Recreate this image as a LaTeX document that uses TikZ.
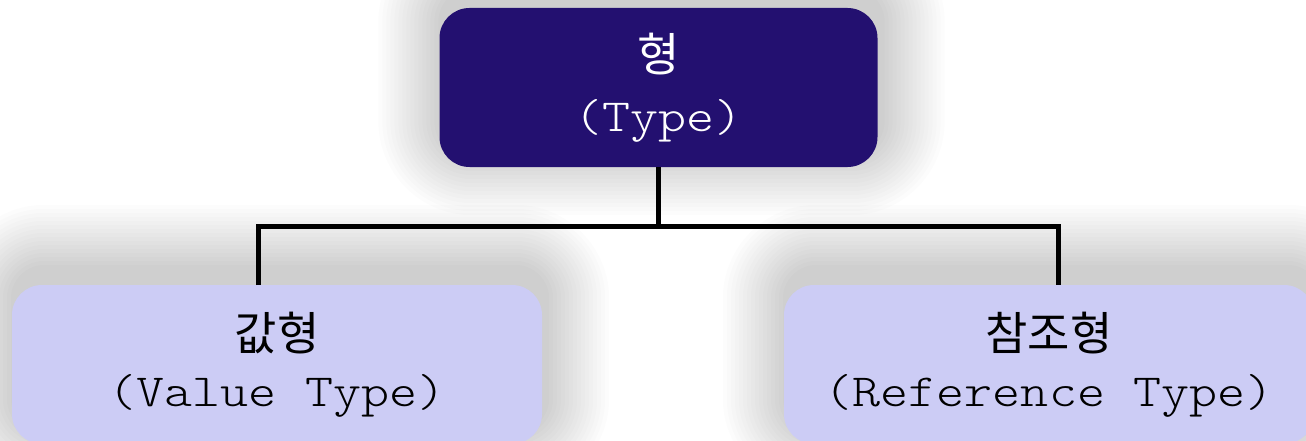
\documentclass[tikz,border=0pt]{standalone}
\usepackage{fontspec}
\usepackage{graphicx}
\newfontfamily\krfont{Noto Sans CJK KR}
\newfontfamily\monolight{lmmonolt10-regular.otf}
\usetikzlibrary{calc,backgrounds}
\definecolor{topfill}{RGB}{35,16,112}
\definecolor{subfill}{RGB}{204,204,245}
\newcommand{\monotxt}[1]{\scalebox{1.16}[1]{#1}}
\newcommand{\softshadow}[1]{%
  \foreach \i [evaluate=\i as \e using 4*\i, evaluate=\i as \r using 30+4*\i] in {1,...,16}{
    \fill[black, fill opacity=0.013, rounded corners=\r pt]
      ($(#1.south west)+(-\e+3,\e-16)$) rectangle ($(#1.north east)+(\e+3,-\e-16)$);
  }}
\tikzset{
  boxbase/.style={rectangle, rounded corners=30pt, minimum height=159pt, inner sep=0pt, draw=none},
  topbox/.style={boxbase, fill=topfill, minimum width=438pt},
  subbox/.style={boxbase, fill=subfill, minimum width=530pt},
  krtext/.style={inner sep=0pt, font=\krfont\fontsize{46}{50}\selectfont},
  monotext/.style={inner sep=0pt, font=\monolight\fontsize{46}{50}\selectfont},
  conn/.style={line width=5pt, draw=black}
}
\begin{document}
\begin{tikzpicture}[x=1pt,y=-1pt]
\useasboundingbox (0,0) rectangle (1306,441);
\node[topbox] (top) at (658.5,87.5) {};
\node[subbox] (val) at (277,364.5) {};
\node[subbox] (ref) at (1049,364.5) {};
\begin{scope}[on background layer]
  \fill[white] (0,0) rectangle (1306,441);
  \softshadow{top}
  \softshadow{val}
  \softshadow{ref}
\end{scope}
\coordinate (j) at (658.5,226.5);
\coordinate (lc) at (258.5,285);
\coordinate (rc) at (1058,285);
\draw[conn] (lc) |- (j) -| (rc);
\draw[conn] (top.south) -- (j);
\node[krtext, text=white] (topk) at ($(top.center)+(0,-33)$) {형};
\node[monotext, text=white] (tope) at ($(top.center)+(0,33)$) {\monotxt{(Type)}};
\node[krtext] (valk) at ($(val.center)+(0,-31.5)$) {값형};
\node[monotext] (vale) at ($(val.center)+(0,31.5)$) {\monotxt{(Value Type)}};
\node[krtext] (refk) at ($(ref.center)+(0,-31.5)$) {참조형};
\node[monotext] (refe) at ($(ref.center)+(0,31.5)$) {\monotxt{(Reference Type)}};
\end{tikzpicture}
\end{document}
